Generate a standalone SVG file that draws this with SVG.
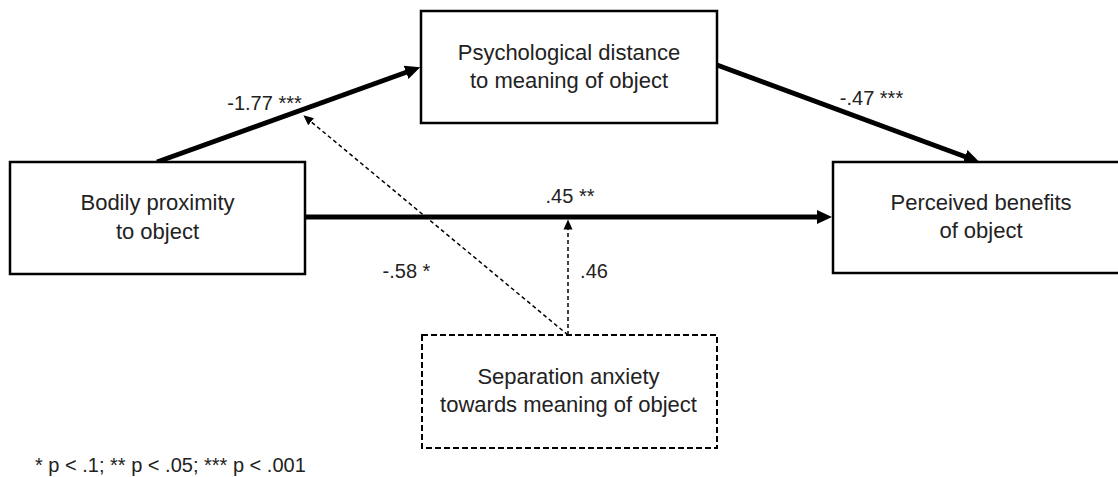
<svg xmlns="http://www.w3.org/2000/svg" width="1118" height="477" viewBox="0 0 1118 477">
<style>
  .box { fill: #ffffff; stroke: #000000; stroke-width: 2.5; }
  .dbox { fill: #ffffff; stroke: #000000; stroke-width: 2; stroke-dasharray: 6 3; }
  .node { font-family: "Liberation Sans", Arial, sans-serif; font-size: 22px; fill: #222222; text-anchor: middle; }
  .lbl { font-family: "Liberation Sans", Arial, sans-serif; font-size: 20px; fill: #222222; text-anchor: middle; }
  .note { font-family: "Liberation Sans", Arial, sans-serif; font-size: 20px; fill: #222222; }
  .thick { fill: none; stroke: #000000; stroke-width: 5; }
  .dash { fill: none; stroke: #000000; stroke-width: 1.5; stroke-dasharray: 4 3; }
</style>
<defs>
  <marker id="ah" markerUnits="userSpaceOnUse" viewBox="0 -8 16 16" markerWidth="16" markerHeight="16" refX="1" refY="0" orient="auto">
    <path d="M0,-7 L15,0 L0,7 z" fill="#000000"/>
  </marker>
  <marker id="ahs" markerUnits="userSpaceOnUse" viewBox="0 -6 12 12" markerWidth="12" markerHeight="12" refX="0.5" refY="0" orient="auto">
    <path d="M0,-4.5 L10,0 L0,4.5 z" fill="#000000"/>
  </marker>
</defs>
<rect width="1118" height="477" fill="#ffffff"/>

<g id="connectors">
  <line class="thick" x1="157" y1="162" x2="407" y2="72" marker-end="url(#ah)"/>
  <line class="thick" x1="717" y1="65" x2="966" y2="157" marker-end="url(#ah)"/>
  <line class="thick" x1="305" y1="217" x2="818" y2="217" marker-end="url(#ah)"/>
  <line class="dash" x1="568" y1="335" x2="310.7" y2="121.4" marker-end="url(#ahs)"/>
  <line class="dash" x1="568" y1="335" x2="568" y2="229" marker-end="url(#ahs)"/>
</g>

<g id="node-bodily">
  <rect class="box" x="10" y="162" width="295" height="112"/>
  <text class="node" x="157.5" y="210">Bodily proximity</text>
  <text class="node" x="157.5" y="239">to object</text>
</g>
<g id="node-psych">
  <rect class="box" x="421" y="11" width="296" height="112"/>
  <text class="node" x="569" y="60">Psychological distance</text>
  <text class="node" x="569" y="88">to meaning of object</text>
</g>
<g id="node-perceived">
  <rect class="box" x="833" y="162" width="296" height="111"/>
  <text class="node" x="981" y="210">Perceived benefits</text>
  <text class="node" x="981" y="238">of object</text>
</g>
<g id="node-separation">
  <rect class="dbox" x="422" y="335" width="295" height="113"/>
  <text class="node" x="568.5" y="384">Separation anxiety</text>
  <text class="node" x="568.5" y="412">towards meaning of object</text>
</g>

<g id="labels">
  <text class="lbl" x="264.5" y="110">-1.77 ***</text>
  <text class="lbl" x="871.5" y="105">-.47 ***</text>
  <text class="lbl" x="570" y="203">.45 **</text>
  <text class="lbl" x="406.5" y="278">-.58 *</text>
  <text class="lbl" x="594" y="278">.46</text>
</g>
<text class="note" x="35" y="472">* p &lt; .1; ** p &lt; .05; *** p &lt; .001</text>
</svg>
